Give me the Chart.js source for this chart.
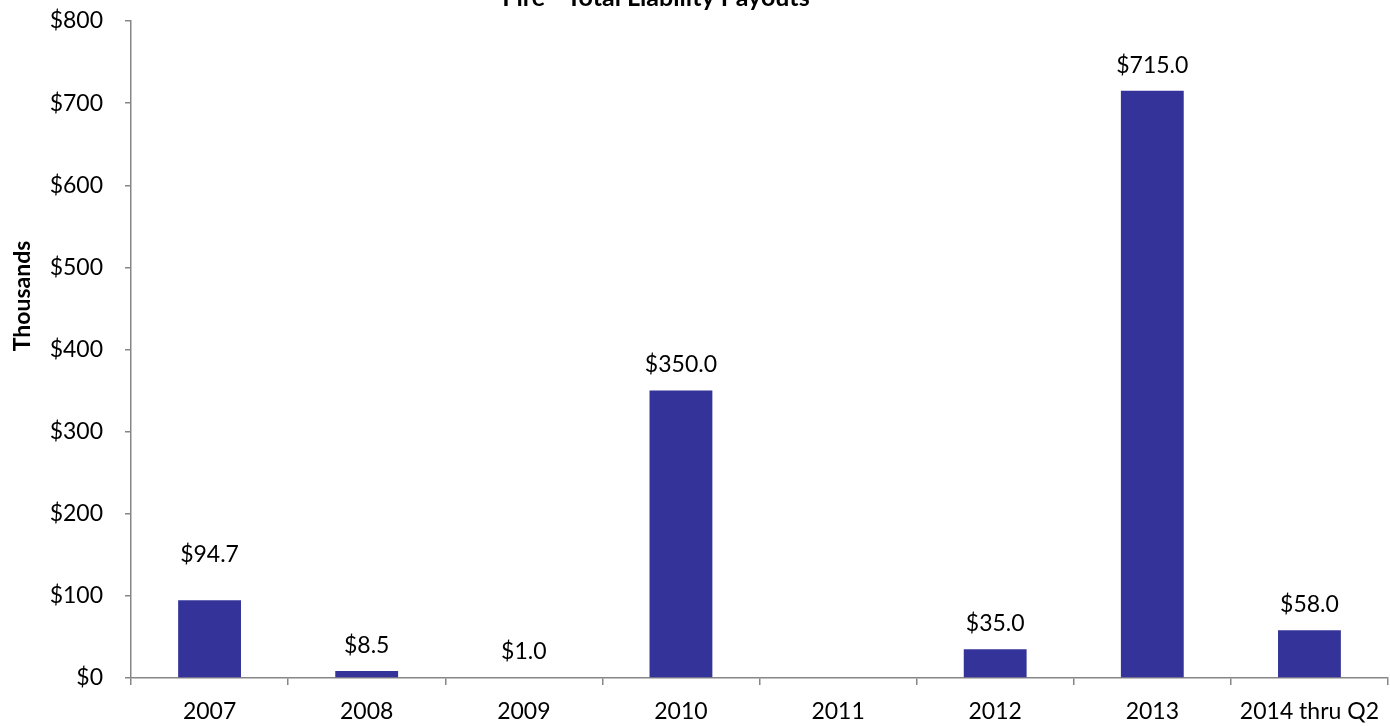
<!DOCTYPE html>
<html>
<head>
<meta charset="utf-8">
<script src="https://cdn.jsdelivr.net/npm/chart.js@4/dist/chart.umd.min.js"></script>
<style>
  html, body { margin: 0; padding: 0; background: #fff; }
  #wrap { width: 1390px; height: 726px; }
</style>
</head>
<body>
<div id="wrap"><canvas id="payoutChart"></canvas></div>
<script>
const categories = ["2007", "2008", "2009", "2010", "2011", "2012", "2013", "2014 thru Q2"];
const payouts = [94.7, 8.5, 1.0, 350.0, null, 35.0, 715.0, 58.0];
const yTicks = [0, 100, 200, 300, 400, 500, 600, 700, 800];

const chartTitle = "Fire - Total Liability Payouts";
const yTitle = "Thousands";
const fontFamily = "Lato, 'Open Sans', sans-serif";

const textPlugin = {
  id: "textPlugin",
  afterDatasetsDraw(chart) {
    const ctx = chart.ctx;
    const meta = chart.getDatasetMeta(0);
    ctx.save();
    ctx.fillStyle = "#000";
    ctx.font = "23px " + fontFamily;
    ctx.textAlign = "center";
    ctx.textBaseline = "bottom";
    meta.data.forEach(function (bar, i) {
      if (payouts[i] === null) return;
      const lift = i === 0 ? 34 : 14;
      ctx.fillText("$" + payouts[i].toFixed(1), bar.x, bar.y - lift);
    });

    ctx.font = "bold 25px " + fontFamily;
    ctx.textBaseline = "alphabetic";
    ctx.fillText(chartTitle, 656, 6);

    ctx.translate(23, 296);
    ctx.rotate(-Math.PI / 2);
    ctx.font = "bold 23px " + fontFamily;
    ctx.textBaseline = "middle";
    ctx.fillText(yTitle, 0, 0);
    ctx.restore();
  },
};

const ctx = document.getElementById("payoutChart").getContext("2d");

const payoutChart = new Chart(ctx, {
  type: "bar",
  data: {
    labels: categories,
    datasets: [
      {
        data: payouts,
        backgroundColor: "#333399",
        categoryPercentage: 1,
        barPercentage: 0.4,
      },
    ],
  },
  options: {
    responsive: true,
    maintainAspectRatio: false,
    animation: false,
    layout: { padding: { top: 21, right: 2, left: 0, bottom: 0 } },
    plugins: {
      legend: { display: false },
      tooltip: { enabled: false },
    },
    scales: {
      x: {
        afterFit: function (scale) {
          scale.height = 48;
          scale.paddingLeft = 0;
          scale.paddingRight = 0;
        },
        border: { color: "#868686", width: 1.5 },
        grid: { drawOnChartArea: false, tickLength: 7, color: "#868686", lineWidth: 1.5, offset: true },
        ticks: { color: "#000", font: { size: 23, family: fontFamily }, padding: 13, maxRotation: 0 },
      },
      y: {
        min: 0,
        max: 800,
        afterFit: function (scale) {
          scale.width = 131;
          scale.paddingTop = 0;
          scale.paddingBottom = 0;
        },
        afterBuildTicks: function (scale) {
          scale.ticks = yTicks.map(function (v) { return { value: v }; });
        },
        border: { color: "#868686", width: 1.5 },
        grid: { drawOnChartArea: false, tickLength: 6, color: "#868686", lineWidth: 1.5 },
        ticks: {
          color: "#000",
          font: { size: 23, family: fontFamily },
          padding: 22,
          callback: function (v) { return "$" + v; },
        },
      },
    },
  },
  plugins: [textPlugin],
});
</script>
</body>
</html>
